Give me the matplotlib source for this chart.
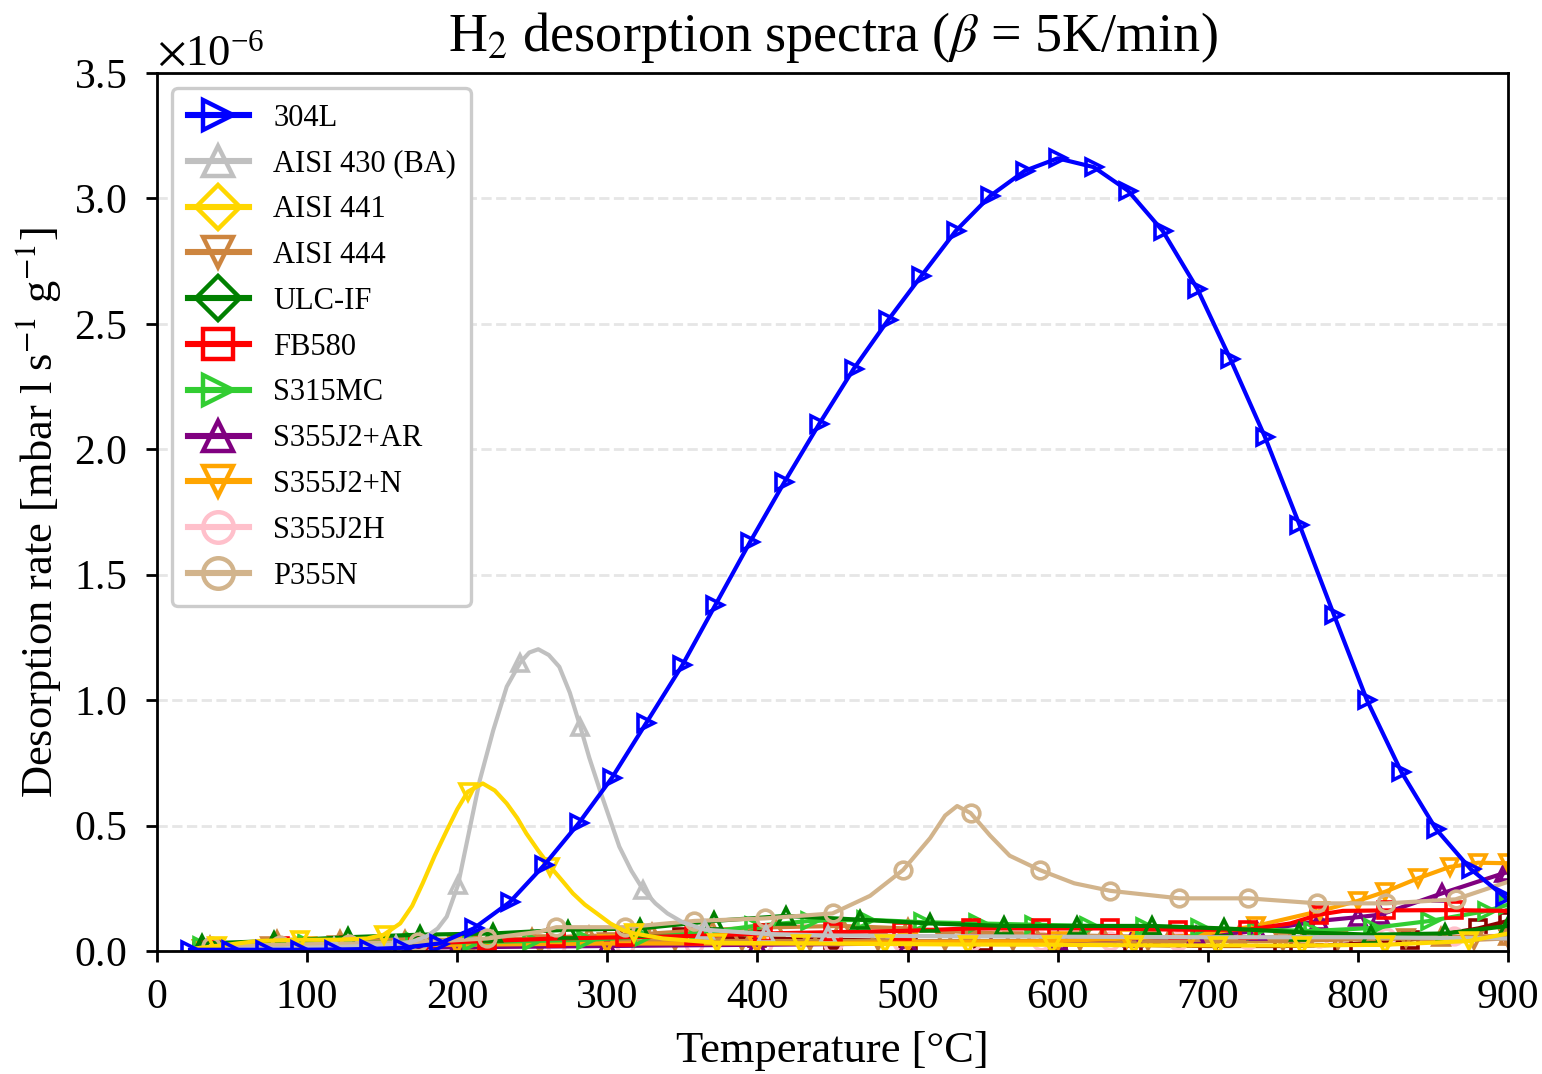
import numpy as np
import matplotlib
matplotlib.use("Agg")
import matplotlib.pyplot as plt
from matplotlib.lines import Line2D

plt.rcParams["font.family"] = ["Liberation Serif", "DejaVu Serif"]
plt.rcParams["mathtext.fontset"] = "stix"

# values, y in units of 1e-6 mbar l s^-1 g^-1
t_304l = [22, 49, 72, 95, 118, 141, 164, 188, 211, 235, 258, 281, 303, 326, 350, 372, 395,
          418, 441, 464, 487, 509, 532, 555, 578, 600, 624, 647, 670, 693, 715, 738, 761,
          784, 806, 829, 852, 875, 898]
v_304l = [0.005, 0.005, 0.005, 0.005, 0.006, 0.008, 0.013, 0.03, 0.09, 0.195, 0.343, 0.51,
          0.69, 0.91, 1.14, 1.38, 1.63, 1.87, 2.10, 2.32, 2.515, 2.69, 2.87, 3.01, 3.11,
          3.16, 3.125, 3.03, 2.87, 2.64, 2.36, 2.05, 1.70, 1.34, 1.00, 0.713, 0.486, 0.327,
          0.215]

t_430 = [25, 77, 118, 140, 159, 170, 180, 187, 193, 200.5, 207, 215, 224, 233, 242, 248,
         254, 261, 268, 275, 282, 288, 295, 302, 308, 316, 324, 332, 340, 350, 365, 406,
         447, 500, 600, 700, 800, 900]
v_430 = [0.005, 0.01, 0.016, 0.02, 0.025, 0.037, 0.06, 0.09, 0.137, 0.263, 0.45, 0.68,
         0.88, 1.054, 1.15, 1.19, 1.203, 1.18, 1.133, 1.03, 0.894, 0.77, 0.642, 0.52,
         0.416, 0.32, 0.243, 0.19, 0.15, 0.115, 0.085, 0.068, 0.062, 0.06, 0.057, 0.055,
         0.055, 0.05]
mk_430 = [118, 159, 200.5, 242, 282, 324, 365, 406, 447]

t_441 = [25, 40, 67, 95.5, 120, 140, 151, 162, 170, 177, 185, 193, 200, 207, 217, 225,
         233, 240, 246, 254, 262, 270, 277, 285, 293, 302, 310, 318, 337, 373, 429, 485,
         540, 596, 651, 707, 763, 818, 874, 900]
v_441 = [0.01, 0.02, 0.04, 0.045, 0.045, 0.05, 0.065, 0.11, 0.18, 0.27, 0.38, 0.48, 0.565,
         0.635, 0.668, 0.64, 0.588, 0.53, 0.469, 0.40, 0.336, 0.28, 0.23, 0.185, 0.15,
         0.11, 0.084, 0.07, 0.05, 0.033, 0.03, 0.028, 0.026, 0.025, 0.023, 0.022, 0.022,
         0.025, 0.04, 0.07]
mk_441 = [40, 95.5, 151, 207, 262, 318, 373, 429, 485, 540, 596, 651, 707, 763, 818, 874]

t_444 = [30, 75, 120, 165, 210, 255, 300, 345, 390, 435, 480, 525, 570, 615, 660, 705,
         750, 787, 832, 877, 900]
v_444 = [0.01, 0.02, 0.025, 0.03, 0.03, 0.03, 0.035, 0.04, 0.04, 0.04, 0.04, 0.04, 0.04,
         0.04, 0.04, 0.04, 0.04, 0.045, 0.05, 0.045, 0.05]

t_444b = [35, 80, 122, 165, 208, 250, 288, 330, 370, 412, 456, 500, 540, 585, 630, 675,
          720, 765, 810, 855, 900]
v_444b = [0.02, 0.045, 0.045, 0.045, 0.045, 0.05, 0.06, 0.07, 0.085, 0.095, 0.1, 0.09,
          0.075, 0.065, 0.06, 0.055, 0.055, 0.055, 0.055, 0.055, 0.06]

t_ulc = [30, 78, 127, 175, 224, 274, 322, 371, 419, 468, 515, 564, 613, 663, 711, 761,
         809, 858, 900]
v_ulc = [0.03, 0.04, 0.055, 0.065, 0.07, 0.085, 0.09, 0.12, 0.14, 0.125, 0.11, 0.1, 0.1,
         0.1, 0.09, 0.075, 0.065, 0.07, 0.1]

t_fb = [36, 82, 128, 174, 220, 266, 312, 358, 404, 450, 496, 542, 589, 635, 680, 727,
        755, 774, 790, 819, 864, 900]
v_fb = [0.01, 0.02, 0.025, 0.03, 0.04, 0.05, 0.055, 0.06, 0.07, 0.075, 0.08, 0.09, 0.09,
        0.09, 0.085, 0.085, 0.11, 0.145, 0.16, 0.162, 0.163, 0.16]
mk_fb = [36, 82, 128, 174, 220, 266, 312, 358, 404, 450, 496, 542, 589, 635, 680, 727,
         774, 819, 864]

t_315 = [30, 100, 172, 210, 250, 286, 324, 361, 398, 435, 472, 510, 547, 584, 621, 658,
         695, 733, 770, 810, 848, 886, 900]
v_315 = [0.02, 0.03, 0.035, 0.035, 0.04, 0.045, 0.055, 0.07, 0.1, 0.12, 0.125, 0.115,
         0.11, 0.105, 0.1, 0.095, 0.09, 0.085, 0.08, 0.092, 0.12, 0.16, 0.185]

t_ar = [30, 100, 200, 300, 400, 500, 600, 650, 692, 733, 774, 800, 815, 856, 897, 900]
v_ar = [0.005, 0.01, 0.015, 0.02, 0.025, 0.03, 0.04, 0.05, 0.06, 0.08, 0.12, 0.135, 0.145,
        0.23, 0.31, 0.315]

t_n = [30, 100, 200, 300, 400, 500, 600, 646, 689, 732, 775, 800, 818, 840, 861, 880, 900]
v_n = [0.01, 0.02, 0.025, 0.03, 0.03, 0.035, 0.04, 0.05, 0.06, 0.1, 0.16, 0.2, 0.236,
       0.29, 0.335, 0.352, 0.35]

t_h = [36, 82, 128, 174, 220, 266, 312, 358, 404, 450, 496, 542, 589, 635, 680, 727, 774,
       819, 864, 900]
v_h = [0.005, 0.01, 0.012, 0.015, 0.02, 0.02, 0.025, 0.03, 0.03, 0.03, 0.035, 0.035,
       0.04, 0.04, 0.04, 0.045, 0.05, 0.055, 0.06, 0.06]

t_p355 = [36, 82, 128, 174, 220, 255, 266, 312, 358, 405, 450, 475, 497, 515, 525, 533,
          542, 555, 568, 588, 611, 635, 681, 727, 773, 819, 865, 900]
v_p355 = [0.02, 0.025, 0.03, 0.035, 0.05, 0.077, 0.095, 0.095, 0.12, 0.13, 0.15, 0.22,
          0.323, 0.45, 0.54, 0.578, 0.55, 0.46, 0.38, 0.323, 0.27, 0.24, 0.21, 0.21, 0.19,
          0.19, 0.206, 0.276]
mk_p355 = [36, 82, 128, 174, 220, 266, 312, 358, 405, 450, 497, 542, 588, 635, 681, 727,
           773, 819, 865]

t_mar = [30, 80, 130, 180, 220, 266, 304, 350, 400, 450, 500, 550, 600, 650, 700, 750,
         790, 835, 880, 900]
v_mar = [0.005, 0.01, 0.02, 0.03, 0.04, 0.055, 0.06, 0.055, 0.05, 0.045, 0.04, 0.035,
         0.03, 0.025, 0.02, 0.02, 0.025, 0.045, 0.09, 0.12]

labels = ["304L", "AISI 430 (BA)", "AISI 441", "AISI 444", "ULC-IF", "FB580", "S315MC",
          "S355J2+AR", "S355J2+N", "S355J2H", "P355N"]
colors = ["blue", "silver", "gold", "peru", "green", "red", "limegreen", "purple",
          "orange", "pink", "tan"]
legend_markers = [">", "^", "D", "v", "D", "s", ">", "^", "v", "o", "o"]

# (T, values, colour, plot marker, marker positions) in drawing order
series = [
    (t_mar, v_mar, "darkred", "s", None),
    (t_h, v_h, "pink", "o", None),
    (t_444, v_444, "peru", "v", None),
    (t_444b, v_444b, "peru", "^", None),
    (t_ar, v_ar, "purple", "^", None),
    (t_n, v_n, "orange", "v", None),
    (t_315, v_315, "limegreen", ">", None),
    (t_fb, v_fb, "red", "s", mk_fb),
    (t_ulc, v_ulc, "green", "^", None),
    (t_p355, v_p355, "tan", "o", mk_p355),
    (t_430, v_430, "silver", "^", mk_430),
    (t_441, v_441, "gold", "v", mk_441),
    (t_304l, v_304l, "blue", ">", None),
]

fig = plt.figure(figsize=(7.71, 5.37), dpi=200)
ax = fig.add_axes([0.1018, 0.1145, 0.8762, 0.8175])

for t, v, c, m, mk in series:
    every = None if mk is None else [t.index(x) for x in mk]
    ax.plot(t, np.array(v) * 1e-6, color=c, lw=1.5, marker=m, markersize=6,
            markerfacecolor="none", markeredgewidth=1.3, markevery=every)

ax.set_xlim(0, 900)
ax.set_ylim(0, 3.5e-6)
ax.set_xticks(range(0, 901, 100))
ax.set_yticks(np.arange(0, 3.51e-6, 0.5e-6))
ax.ticklabel_format(axis="y", style="sci", scilimits=(-6, -6), useMathText=True)
ax.yaxis.get_offset_text().set_fontsize(16)
ax.tick_params(labelsize=15, length=4, width=1)
ax.tick_params(axis="x", pad=6)
ax.tick_params(axis="y", pad=7)
for s in ax.spines.values():
    s.set_linewidth(1.0)
ax.yaxis.grid(True, ls="--", color="#e6e6e6", lw=1.0)
ax.set_axisbelow(True)

ax.set_xlabel("Temperature [°C]", fontsize=16, labelpad=5)
ax.set_ylabel("Desorption rate [mbar l s$^{-1}$ g$^{-1}$]", fontsize=16, labelpad=4)
ax.set_title(r"H$_2$ desorption spectra ($\beta$ = 5K/min)", fontsize=19.5, pad=8)

handles = [Line2D([], [], color=c, lw=2.2, marker=m, markersize=11,
                  markerfacecolor="none", markeredgewidth=1.6)
           for c, m in zip(colors, legend_markers)]
leg = ax.legend(handles, labels, loc="upper left", fontsize=11, labelspacing=0.55,
                handlelength=2.0, borderpad=0.5, fancybox=True, framealpha=1)
leg.get_frame().set_edgecolor("#cccccc")
leg.get_frame().set_linewidth(1.2)

fig.savefig("out.png", dpi=200)
